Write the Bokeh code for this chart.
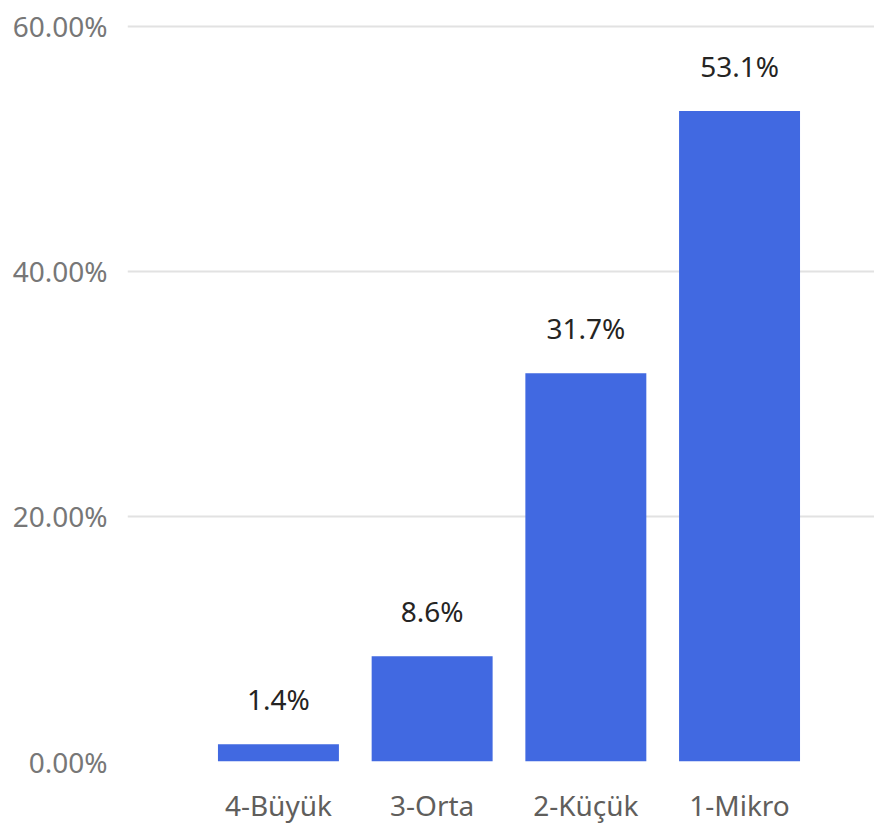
from bokeh.plotting import figure
from bokeh.models import ColumnDataSource, Range1d, FixedTicker, PrintfTickFormatter
from bokeh.core.properties import value
from bokeh.embed import file_html
from bokeh.resources import INLINE

categories = ["4-Büyük", "3-Orta", "2-Küçük", "1-Mikro"]
shares = [1.4, 8.6, 31.7, 53.1]
bar_labels = ["1.4%", "8.6%", "31.7%", "53.1%"]
y_ticks = [0, 20, 40, 60]

FONT = "Noto Sans"

positions = list(range(len(categories)))
src = ColumnDataSource(dict(x=positions, top=shares, label=bar_labels))

p = figure(width=874, height=826, output_backend="svg", toolbar_location=None,
           x_range=Range1d(-0.982, 3.878), y_range=Range1d(0, 60.81),
           min_border_left=127, min_border_top=16, min_border_bottom=60,
           min_border_right=0)

p.vbar(x="x", top="top", width=0.787, bottom=0, source=src,
       fill_color="#4169E1", line_color=None)

p.text(x="x", y="top", text="label", source=src, text_align="center",
       text_baseline="alphabetic", y_offset=-45,
       text_font=value(FONT), text_font_size="28px", text_color="#252423")

p.outline_line_color = None
p.xgrid.grid_line_color = None
p.ygrid.grid_line_color = "#E2E2E2"
p.ygrid.grid_line_width = 2

p.yaxis.ticker = FixedTicker(ticks=y_ticks)
p.yaxis.formatter = PrintfTickFormatter(format="%.2f%%")
p.yaxis.axis_line_color = None
p.yaxis.major_tick_line_color = None
p.yaxis.minor_tick_line_color = None
p.yaxis.major_tick_out = 0
p.yaxis.major_label_standoff = 20
p.yaxis.major_label_text_font = FONT
p.yaxis.major_label_text_font_size = "28px"
p.yaxis.major_label_text_color = "#777777"

p.xaxis.ticker = FixedTicker(ticks=positions)
p.xaxis.major_label_overrides = {i: c for i, c in zip(positions, categories)}
p.xaxis.axis_line_color = None
p.xaxis.major_tick_line_color = None
p.xaxis.minor_tick_line_color = None
p.xaxis.major_tick_out = 0
p.xaxis.major_label_standoff = 24
p.xaxis.major_label_text_font = FONT
p.xaxis.major_label_text_font_size = "28px"
p.xaxis.major_label_text_color = "#605E5C"

open("out.html", "w").write(file_html(p, INLINE))
